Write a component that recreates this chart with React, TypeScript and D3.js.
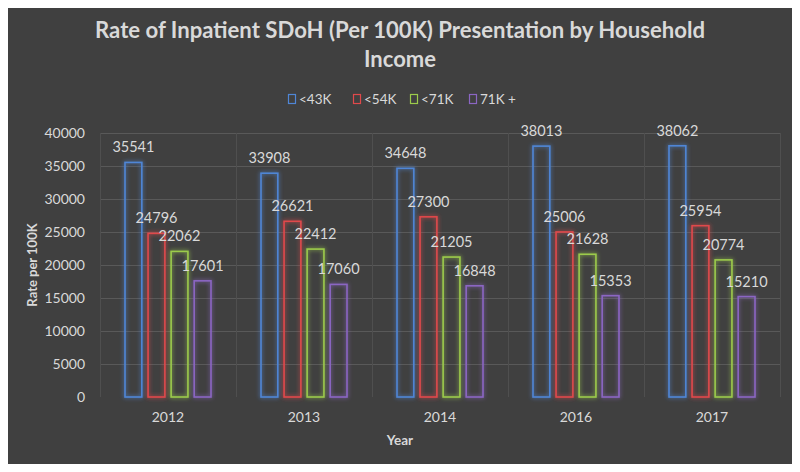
import React from "react";
import * as d3 from "d3";

const years = ["2012", "2013", "2014", "2016", "2017"];
const seriesNames = ["<43K", "<54K", "<71K", "71K +"];
const seriesColors = ["#4f86d6", "#e0494b", "#9ccb4b", "#8b66c3"];
const under43K = [35541, 33908, 34648, 38013, 38062];
const under54K = [24796, 26621, 27300, 25006, 25954];
const under71K = [22062, 22412, 21205, 21628, 20774];
const over71K = [17601, 17060, 16848, 15353, 15210];
const yTicks = [0, 5000, 10000, 15000, 20000, 25000, 30000, 35000, 40000];

const seriesValues = [under43K, under54K, under71K, over71K];

const W = 800;
const H = 472;
const margin = { left: 100, right: 20, top: 133, bottom: 75 };
const FONT = "Lato, 'Open Sans', sans-serif";
const TEXT = "#d9d9d9";

export default function App() {
  const x0 = d3
    .scaleBand<string>()
    .domain(years)
    .range([margin.left, W - margin.right])
    .paddingInner(0)
    .paddingOuter(0);
  const groupW = 86;
  const x1 = d3
    .scaleBand<string>()
    .domain(seriesNames)
    .range([0, groupW])
    .paddingInner(0.27)
    .paddingOuter(0);
  const y = d3
    .scaleLinear()
    .domain([0, 40000])
    .range([H - margin.bottom, margin.top]);

  const legendX = [288, 353, 410, 469];

  return (
    <div style={{ margin: -8 }}>
      <svg width={W} height={H} style={{ display: "block" }}>
        <defs>
          {seriesColors.map((c, i) => (
            <filter id={`glow${i}`} key={i} x="-50%" y="-20%" width="200%" height="140%">
              <feGaussianBlur in="SourceGraphic" stdDeviation="2.2" result="b" />
              <feMerge>
                <feMergeNode in="b" />
                <feMergeNode in="SourceGraphic" />
              </feMerge>
            </filter>
          ))}
        </defs>
        <rect x={0.5} y={0.5} width={W - 1} height={H - 1} fill="#404040" stroke="#8a8a8a" strokeWidth={1} />
        <text x={400} y={38} textAnchor="middle" fill={TEXT} fontFamily={FONT} fontWeight="bold" fontSize={22} textLength={610} lengthAdjust="spacingAndGlyphs">
          Rate of Inpatient SDoH (Per 100K) Presentation by Household
        </text>
        <text x={400} y={67} textAnchor="middle" fill={TEXT} fontFamily={FONT} fontWeight="bold" fontSize={22}>
          Income
        </text>
        {seriesNames.map((s, i) => (
          <g key={s}>
            <rect x={legendX[i] + 0.5} y={94.5} width={7} height={9} fill="none" stroke={seriesColors[i]} strokeWidth={1.2} />
            <text x={legendX[i] + 11} y={104} fill={TEXT} fontFamily={FONT} fontSize={13.5}>
              {s}
            </text>
          </g>
        ))}
        {yTicks.map((t) => (
          <g key={t}>
            {t > 0 && (
              <line x1={margin.left} x2={W - margin.right} y1={Math.round(y(t)) + 0.5} y2={Math.round(y(t)) + 0.5} stroke="#595959" strokeWidth={1} />
            )}
            <text x={85} y={y(t) + 5} textAnchor="end" fill={TEXT} fontFamily={FONT} fontSize={14}>
              {t}
            </text>
          </g>
        ))}
        {years.map((yr) => (
          <line key={yr} x1={Math.round(x0(yr)!) + 0.5} x2={Math.round(x0(yr)!) + 0.5} y1={margin.top} y2={H - margin.bottom} stroke="#4f4f4f" strokeWidth={1} />
        ))}
        <line x1={W - margin.right + 0.5} x2={W - margin.right + 0.5} y1={margin.top} y2={H - margin.bottom} stroke="#4f4f4f" strokeWidth={1} />
        {years.map((yr, yi) => {
          const gx = x0(yr)! + (x0.bandwidth() - groupW) / 2;
          return (
            <g key={yr}>
              {seriesNames.map((s, si) => {
                const v = seriesValues[si][yi];
                const bx = gx + x1(s)!;
                const bw = x1.bandwidth();
                return (
                  <g key={s}>
                    <rect x={bx} y={y(v)} width={bw} height={y(0) - y(v)} fill="none" stroke={seriesColors[si]} strokeWidth={1.6} filter={`url(#glow${si})`} />
                    <text x={bx + bw / 2} y={y(v) - 10} textAnchor="middle" fill={TEXT} fontFamily={FONT} fontSize={14.5}>
                      {v}
                    </text>
                  </g>
                );
              })}
              <text x={x0(yr)! + x0.bandwidth() / 2} y={422} textAnchor="middle" fill={TEXT} fontFamily={FONT} fontSize={14}>
                {yr}
              </text>
            </g>
          );
        })}
        <text x={400} y={445} textAnchor="middle" fill={TEXT} fontFamily={FONT} fontWeight="bold" fontSize={13.5}>
          Year
        </text>
        <text transform={`translate(37, ${(margin.top + H - margin.bottom) / 2}) rotate(-90)`} textAnchor="middle" fill={TEXT} fontFamily={FONT} fontWeight="bold" fontSize={13}>
          Rate per 100K
        </text>
      </svg>
    </div>
  );
}
